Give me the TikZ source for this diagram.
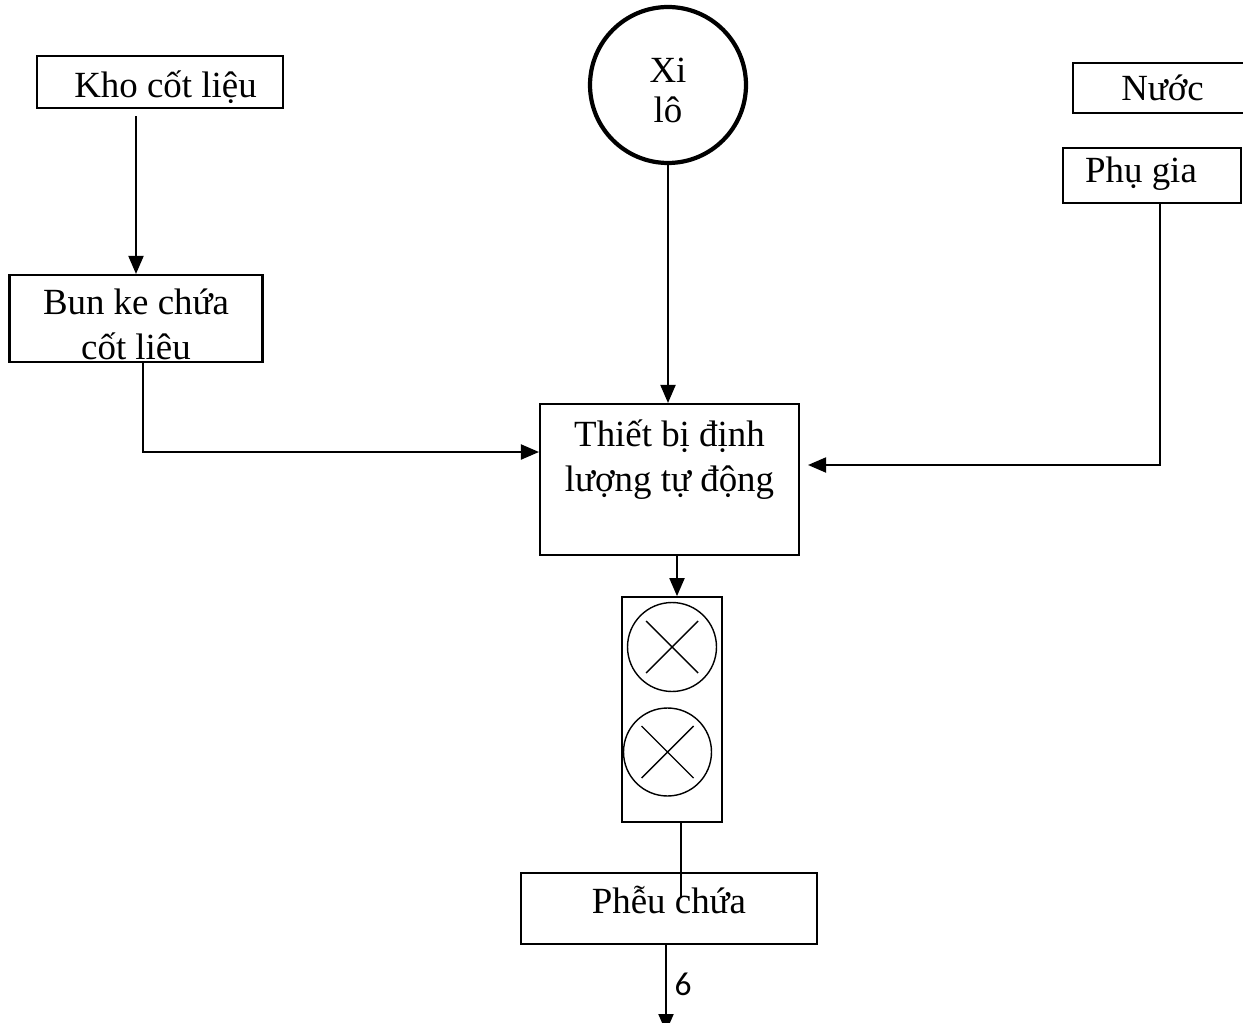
\documentclass[tikz,border=0pt]{standalone}
\usepackage{fontspec}
\setmainfont{Liberation Serif}
\newfontfamily\sofont{Carlito}
\usetikzlibrary{positioning, calc, arrows.meta, shapes.geometric}

\begin{document}
\begin{tikzpicture}[x=0.02cm, y=-0.02cm]
    \tikzstyle{hop}=[draw, line width=1.2pt, inner sep=0pt, font=\fontsize{21}{26}\selectfont]
    \tikzstyle{dong}=[line width=1.1pt, -{Triangle[length=0.36cm,width=0.3cm]}]
    \tikzstyle{banh}=[draw, circle, line width=0.8pt, inner sep=0pt]

    \useasboundingbox (0,0) rectangle (1243,1023);

    % cac nguon vat lieu
    \node (kho) [hop, minimum width=4.92cm, minimum height=1.04cm, text height=0.62cm, text depth=0cm] at (160,82) {\hspace*{0.22cm}Kho cốt liệu};
    \node (bunke) [hop, align=center, minimum width=5.06cm, minimum height=1.74cm, text height=1.66cm, text depth=0cm] at (136,318.5) {Bun ke chứa\\cốt liêu};
    \node (xilo) [draw, circle, line width=2.4pt, minimum size=3.12cm, inner sep=0pt, align=center,
        font=\fontsize{21}{23}\selectfont, text height=1.52cm, text depth=0cm] at (668,85) {Xi\\lô};
    \node (nuoc) [hop, minimum width=3.58cm, minimum height=1cm, text height=0.5cm, text depth=0cm] at (1162.5,88) {Nước};
    \node (phugia) [hop, minimum width=3.56cm, minimum height=1.1cm, text height=0.28cm, text depth=0cm] at (1152,175.5) {Phụ gia\hspace*{0.44cm}};

    % dinh luong va tron
    \node (dinhluong) [hop, align=center, minimum width=5.18cm, minimum height=3.02cm, text height=0.5cm, text depth=0cm] at (669.5,479.5) {Thiết bị định\\lượng tự động};
    \node (tron) [draw, line width=1pt, minimum width=2cm, minimum height=4.5cm, inner sep=0pt] at (672,709.5) {};
    \node (banh1) [banh, minimum size=1.78cm] at (672,647) {};
    \node (banh2) [banh, minimum size=1.76cm] at (667.5,752) {};
    \foreach \b in {banh1, banh2}
        \draw [line width=0.8pt] ($(\b)+(-26,-26)$) -- ($(\b)+(26,26)$)
            ($(\b)+(-26,26)$) -- ($(\b)+(26,-26)$);

    \node (pheu) [hop, minimum width=5.92cm, minimum height=1.42cm, text height=0.18cm, text depth=0cm] at (669,908.5) {Phễu chứa};
    \coordinate (pheuvao) at (681,898);
    \coordinate (ra) at (666,1032);

    % duong noi
    \draw [dong, shorten <=0.14cm] (kho.south -| bunke.north) -- (bunke.north);
    \draw [dong] ([xshift=0.14cm]bunke.south) |- ([yshift=0.55cm]dinhluong.west);
    \draw [dong] (xilo.south) -- (xilo.south |- dinhluong.north);
    \draw [dong] ([xshift=0.16cm]phugia.south) |- ([xshift=0.16cm,yshift=0.29cm]dinhluong.east);
    \draw [dong] ([xshift=0.15cm]dinhluong.south) -- ([xshift=0.1cm]tron.north);
    \draw [line width=1.1pt] ([xshift=0.18cm]tron.south) -- (pheuvao);
    \draw [dong] ([xshift=-0.06cm]pheu.south) -- (ra);
    \node (so) [font=\sofont\fontsize{19}{21}\selectfont, anchor=base] at (683,995) {6};
\end{tikzpicture}
\end{document}
